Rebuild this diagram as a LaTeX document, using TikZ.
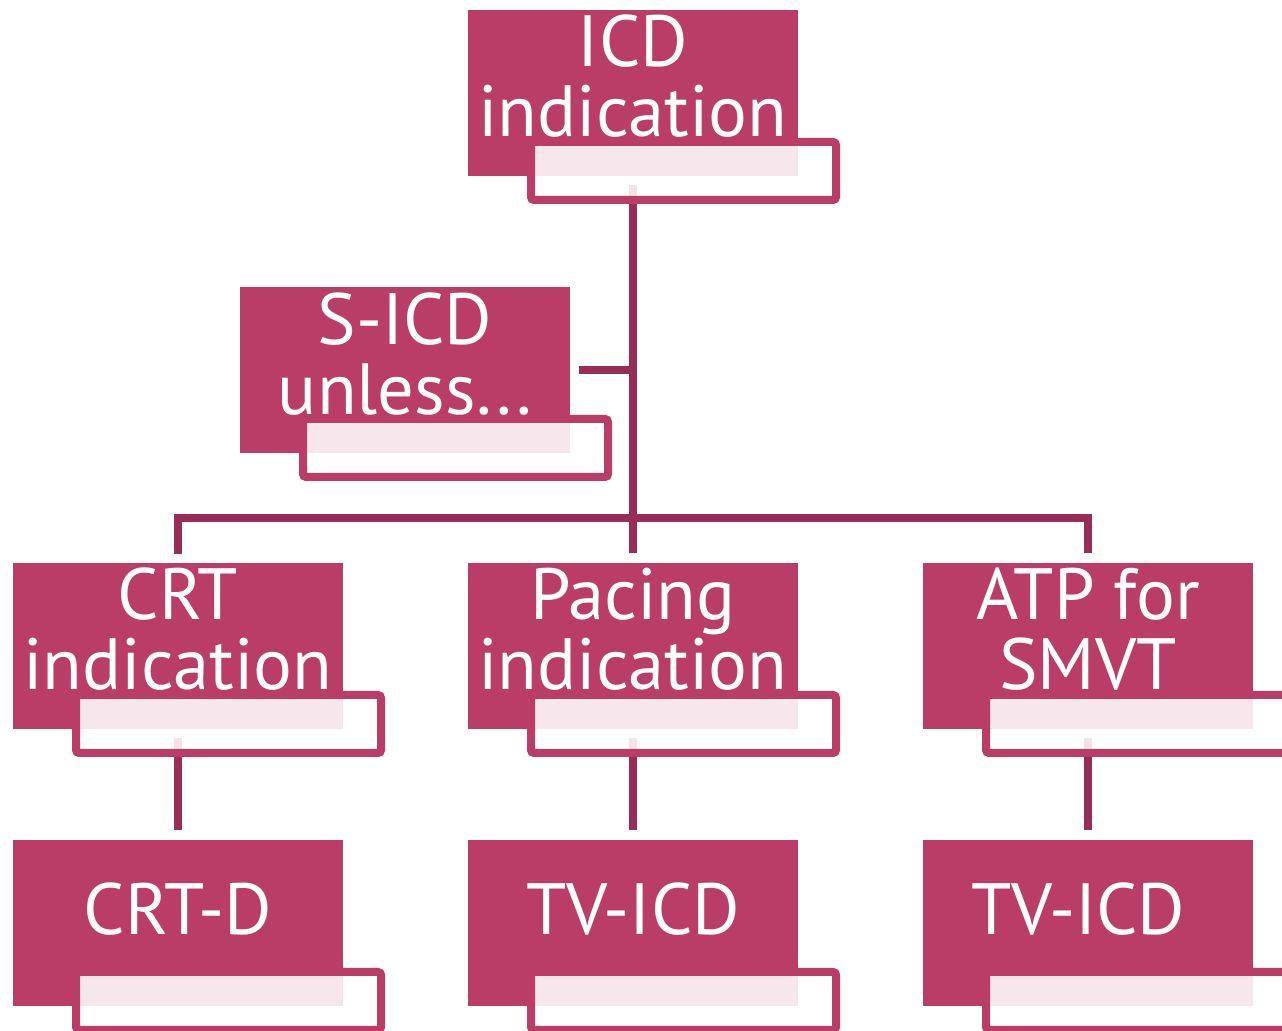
\documentclass[tikz,border=0pt]{standalone}
\usepackage{fontspec}
\setmainfont{PT Sans}
\usetikzlibrary{backgrounds}
\definecolor{boxpink}{HTML}{B93D67}
\definecolor{linkpink}{HTML}{982E57}

\tikzset{
  unitbox/.style={fill=boxpink, anchor=north west, minimum width=165pt,
    minimum height=83pt, inner sep=0pt, outer sep=0pt},
  unittext/.style={text=white, font=\fontsize{36.3}{35}\selectfont,
    align=center, anchor=base, inner sep=0pt},
  subbox/.style={draw=boxpink, line width=4pt, fill=white, fill opacity=0.88,
    rounded corners=1.5pt, anchor=north west, minimum width=152.5pt,
    minimum height=29pt, inner sep=0pt, outer sep=0pt},
  link/.style={draw=linkpink, line width=4pt, shorten <=4.5pt, shorten >=5pt}
}

\begin{document}
\begin{tikzpicture}[x=0.5pt, y=-0.5pt]

  \clip (0,0) rectangle (1282,1031);

  % Her kutu: isim / sol üst köşe / son satırın taban çizgisi / metin
  \foreach \name/\px/\py/\base/\txt in {
    icd/468/10/127/{ICD\\indication},
    sicd/240/287/128/{S-ICD\\unless...},
    crt/13/563/127/{CRT\\indication},
    pacing/468/563/127/{Pacing\\indication},
    atp/923/563/127/{ATP for\\SMVT},
    crtd/13/840/95/{CRT-D},
    tvicd/468/840/95/{TV-ICD},
    tvicdb/923/840/95/{TV-ICD}
  }{
    \node[unitbox] (\name) at (\px,\py) {};
    \node[unittext] (\name-text) at (\px+165,\py+\base) {\txt};
    % alttaki beyaz çerçeve
    \node[subbox] (\name-sub) at ([shift={(31.5pt,17pt)}]\name.south west) {};
  }

  % Bağlantılar kutuların altında kalsın
  \coordinate (bar) at (633,518);
  \begin{scope}[on background layer]
    \draw[link] (icd.south) -- (pacing.north);
    \draw[link, shorten >=0pt] (sicd.east) -- (sicd.east -| icd.south);
    \draw[link] (crt.north) |- (bar) -| (atp.north);
    \foreach \upper/\lower in {crt/crtd, pacing/tvicd, atp/tvicdb}
      \draw[link] (\upper.south) -- (\lower.north);
  \end{scope}

\end{tikzpicture}
\end{document}
